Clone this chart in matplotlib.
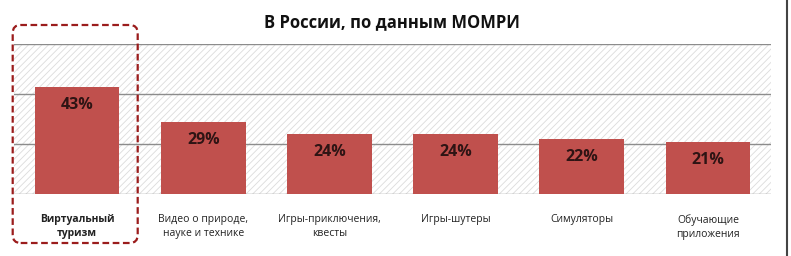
import matplotlib
matplotlib.use('Agg')
import matplotlib.pyplot as plt
from matplotlib.patches import Rectangle, FancyBboxPatch
from matplotlib.lines import Line2D

# данные
title = 'В России, по данным МОМРИ'
categories = ['Виртуальный\nтуризм', 'Видео о природе,\nнауке и технике',
              'Игры-приключения,\nквесты', 'Игры-шутеры', 'Симуляторы',
              'Обучающие\nприложения']
values = [43, 29, 24, 24, 22, 21]
grid_ticks = [20, 40, 60]

plt.rcParams['font.family'] = ['Open Sans', 'DejaVu Sans']
plt.rcParams['hatch.linewidth'] = 0.6

fig = plt.figure(figsize=(7.91, 2.56), dpi=100)
ax = fig.add_axes([14/791, 62/256, 757/791, 150/256])

# фон со штриховкой
bg = Rectangle((0, 0), 1, 1, transform=ax.transAxes, facecolor='white',
               edgecolor='#dcdcdc', linewidth=0, hatch='/////', zorder=0)
ax.add_patch(bg)

x = list(range(len(values)))
ax.bar(x, values, width=0.67, color='#c0504d', zorder=3)

for xi, v in zip(x, values):
    ax.annotate(f'{v}%', (xi, v), xytext=(0, -13), textcoords='offset points',
                ha='center', va='center', fontsize=11.5, fontweight='bold',
                color='#2e1414', zorder=4)

for t in [0] + grid_ticks:
    ax.axhline(t, color='#8c8c8c', lw=1, zorder=2)

ax.set_xlim(-0.5, len(values) - 0.5)
ax.set_ylim(0, 60)
ax.set_yticks([])
ax.set_xticks(x)
ax.set_xticklabels(categories, fontsize=7.5, linespacing=1.35, color='#222222')
ax.tick_params(axis='x', length=0, pad=14.5)
ax.get_xticklabels()[0].set_fontweight('bold')
for s in ax.spines.values():
    s.set_visible(False)

fig.text(392/791, 1 - 22/256, title, ha='center', va='center',
         fontsize=12, fontweight='bold', color='#111111')

# пунктирная рамка вокруг первой категории
box = FancyBboxPatch((0.127, 0.13), 1.25, 2.18,
                     boxstyle='round,pad=0,rounding_size=0.08',
                     transform=fig.dpi_scale_trans, fill=False,
                     edgecolor='#9b1c1c', linewidth=1.6,
                     linestyle=(0, (3, 1.6)))
fig.patches.append(box)

fig.lines.append(Line2D([787/791, 787/791], [0, 1], transform=fig.transFigure,
                        color='#444444', lw=1.5))

fig.savefig('out.png', dpi=100)
